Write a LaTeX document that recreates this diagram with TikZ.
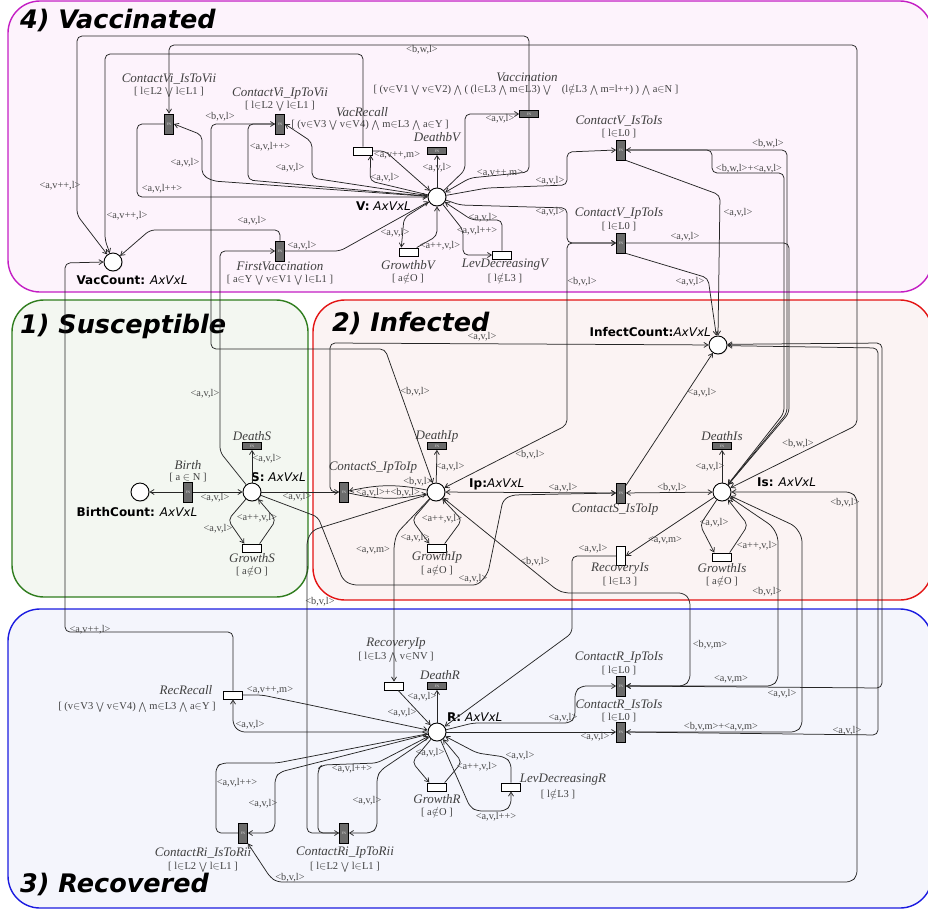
\documentclass[tikz,border=0pt]{standalone}
\usepackage{fontspec}
\setmainfont{Liberation Serif}
\setsansfont{DejaVu Sans}[BoldFont={DejaVu Sans Bold}, ItalicFont={DejaVu Sans Oblique}, BoldItalicFont={DejaVu Sans Bold Oblique}]
\usetikzlibrary{arrows.meta,shadows}

\definecolor{vacfill}{HTML}{FDF3FC}
\definecolor{vacline}{HTML}{C41EC4}
\definecolor{susfill}{HTML}{F3F7F1}
\definecolor{susline}{HTML}{2F7D1E}
\definecolor{inffill}{HTML}{FBF3F3}
\definecolor{infline}{HTML}{E31414}
\definecolor{recfill}{HTML}{F4F5FC}
\definecolor{recline}{HTML}{1B1BE0}
\definecolor{fngray}{HTML}{6B6B6B}

\newcommand{\gin}{\ensuremath{\in}}
\newcommand{\gor}{\ensuremath{\textstyle\bigvee}}
\newcommand{\gand}{\ensuremath{\textstyle\bigwedge}}
\newcommand{\gnin}{\ensuremath{\notin}}

\tikzset{
  zone/.style={line width=1.4pt, rounded corners=32pt},
  zonetitle/.style={anchor=west, inner sep=0pt, font=\sffamily\bfseries\itshape\fontsize{25.5}{25.5}\selectfont},
  place/.style={circle, draw, fill=white, line width=0.9pt, minimum size=18pt, inner sep=0pt,
    drop shadow={opacity=0.25, shadow xshift=0.8pt, shadow yshift=-0.8pt}},
  plab/.style={inner sep=0pt, font=\sffamily\fontsize{12}{12}\selectfont},
  fnh/.style={rectangle, draw, fill=fngray, line width=0.8pt, minimum width=19pt, minimum height=7pt,
    inner sep=0pt, font=\fontsize{3.5}{3.5}\selectfont, text=white!75!gray,
    drop shadow={opacity=0.25, shadow xshift=0.8pt, shadow yshift=-0.8pt}},
  fnv/.style={fnh, minimum width=9pt, minimum height=20pt},
  imh/.style={rectangle, draw, fill=white, line width=0.9pt, minimum width=19pt, minimum height=8pt,
    inner sep=0pt, drop shadow={opacity=0.25, shadow xshift=0.8pt, shadow yshift=-0.8pt}},
  imv/.style={imh, minimum width=9pt, minimum height=19pt},
  tname/.style={inner sep=0pt, text=black!75, font=\itshape\fontsize{13}{13}\selectfont},
  tguard/.style={inner sep=0pt, text=black!75, font=\fontsize{10.5}{10.5}\selectfont},
  lab/.style={inner sep=0pt, text=black!72, font=\fontsize{10.3}{10.3}\selectfont},
  pnarc/.style={draw=black!85, line width=0.75pt, rounded corners=5pt, ->},
  pnboth/.style={pnarc, <->}
}

\begin{document}
\begin{tikzpicture}[x=1pt, y=-1pt, >={Straight Barb[length=4pt,width=5pt]}]

\useasboundingbox (0,0) rectangle (928,913);

% Zones
\draw[zone, draw=vacline, fill=vacfill] (8,1) rectangle (932,292);
\draw[zone, draw=susline, fill=susfill] (12,300) rectangle (308,597);
\draw[zone, draw=infline, fill=inffill] (313,300) rectangle (932,600);
\draw[zone, draw=recline, fill=recfill] (8,609) rectangle (932,908);

\node[zonetitle] (zVac) at (20,20)
{4) Vaccinated};
\node[zonetitle] (zSus) at (20,326)
{1) Susceptible};
\node[zonetitle] (zInf) at (332,323)
{2) Infected};
\node[zonetitle] (zRec) at (20,884)
{3) Recovered};

% Places
\node[place] (V) at (437,197) {};
\node[place] (VacCount) at (113,262) {};
\node[place] (S) at (252,492) {};
\node[place] (BirthCount) at (140,492) {};
\node[place] (Ip) at (436,492) {};
\node[place] (Is) at (722,492) {};
\node[place] (InfectCount) at (718,345) {};
\node[place] (R) at (437,732) {};

\node[plab, anchor=east] (pV) at (411,206)
{\textbf{V:} \textit{AxVxL}};
\node[plab] (pVacCount) at (132,280)
{\textbf{VacCount:} \textit{AxVxL}};
\node[plab, anchor=west] (pS) at (251,477)
{\textbf{S:} \textit{AxVxL}};
\node[plab] (pBirthCount) at (137,512)
{\textbf{BirthCount:} \textit{AxVxL}};
\node[plab, anchor=west] (pIp) at (469,484)
{\textbf{Ip:}\textit{AxVxL}};
\node[plab, anchor=west] (pIs) at (757,482)
{\textbf{Is:} \textit{AxVxL}};
\node[plab, anchor=east] (pInfectCount) at (711,332)
{\textbf{InfectCount:}\textit{AxVxL}};
\node[plab, anchor=west] (pR) at (447,717)
{\textbf{R:} \textit{AxVxL}};

% Transitions
\node[fnv] (tCViIs) at (169,124) {FN};
\node[fnv] (tCViIp) at (280,124) {FN};
\node[fnv] (tFirstVac) at (280,251) {FN};
\node[fnh] (tVacc) at (529,114) {FN};
\node[fnh] (tDeathV) at (437,151) {FN};
\node[imh] (tVacRecall) at (363,151) {};
\node[fnv] (tCVIs) at (621,150) {FN};
\node[fnv] (tCVIp) at (621,243) {FN};
\node[imh] (tGrowthV) at (409,252) {};
\node[imh] (tLevDecV) at (502,255) {};
\node[fnv] (tBirth) at (188,492) {FN};
\node[fnh] (tDeathS) at (252,446) {FN};
\node[imh] (tGrowthS) at (252,548) {};
\node[fnv] (tCSIp) at (344,492) {FN};
\node[fnh] (tDeathIp) at (437,446) {FN};
\node[imh] (tGrowthIp) at (437,548) {};
\node[fnv] (tCSIs) at (621,493) {FN};
\node[fnh] (tDeathIs) at (722,446) {FN};
\node[imh] (tGrowthIs) at (722,557) {};
\node[imv] (tRecIs) at (621,556) {};
\node[imh] (tRecIp) at (394,686) {};
\node[fnh] (tDeathR) at (437,686) {FN};
\node[imh] (tRecRecall) at (233,695) {};
\node[fnv] (tCRIp) at (621,686) {FN};
\node[fnv] (tCRIs) at (621,732) {FN};
\node[imh] (tGrowthR) at (437,787) {};
\node[imh] (tLevDecR) at (511,787) {};
\node[fnv] (tCRiIs) at (243,833) {FN};
\node[fnv] (tCRiIp) at (344,833) {FN};

% Transition names and guards
\node[tname] (nCViIs) at (169,79)
{ContactVi\_IsToVii};
\node[tguard] (gCViIs) at (169,92)
{[ l\gin L2 \gor{} l\gin L1 ]};
\node[tname] (nCViIp) at (280,94)
{ContactVi\_IpToVii};
\node[tguard] (gCViIp) at (280,106)
{[ l\gin L2 \gor{} l\gin L1 ]};
\node[tname] (nFirstVac) at (280,266)
{FirstVaccination};
\node[tguard] (gFirstVac) at (280,280)
{[ a\gin Y \gor{} v\gin V1 \gor{} l\gin L1 ]};
\node[tname] (nVacc) at (527,77)
{Vaccination};
\node[tguard] (gVacc) at (526,90)
{[ (v\gin V1 \gor{} v\gin V2) \gand{} ( (l\gin L3 \gand{} m\gin L3) \gor{}\quad (l\gnin L3 \gand{} m=l++) ) \gand{} a\gin N ]};
\node[tname] (nVacRecall) at (362,112)
{VacRecall};
\node[tguard] (gVacRecall) at (370,125)
{[ (v\gin V3 \gor{} v\gin V4) \gand{} m\gin L3 \gand{} a\gin Y ]};
\node[tname] (nDeathV) at (437,137)
{DeathbV};
\node[tname] (nCVIs) at (619,121)
{ContactV\_IsToIs};
\node[tguard] (gCVIs) at (619,134)
{[ l\gin L0 ]};
\node[tname] (nCVIp) at (619,214)
{ContactV\_IpToIs};
\node[tguard] (gCVIp) at (619,227)
{[ l\gin L0 ]};
\node[tname] (nGrowthV) at (408,265)
{GrowthbV};
\node[tguard] (gGrowthV) at (408,278)
{[ a\gnin O ]};
\node[tname] (nLevDecV) at (505,265)
{LevDecreasingV};
\node[tguard] (gLevDecV) at (505,278)
{[ l\gnin L3 ]};
\node[tname] (nBirth) at (188,465)
{Birth};
\node[tguard] (gBirth) at (188,478)
{[ a \gin{} N ]};
\node[tname] (nDeathS) at (252,436)
{DeathS};
\node[tname] (nGrowthS) at (252,558)
{GrowthS};
\node[tguard] (gGrowthS) at (252,571)
{[ a\gnin O ]};
\node[tname] (nCSIp) at (373,468)
{ContactS\_IpToIp};
\node[tname] (nDeathIp) at (437,436)
{DeathIp};
\node[tname] (nGrowthIp) at (437,557)
{GrowthIp};
\node[tguard] (gGrowthIp) at (437,570)
{[ a\gnin O ]};
\node[tname] (nCSIs) at (615,510)
{ContactS\_IsToIp};
\node[tname] (nDeathIs) at (722,436)
{DeathIs};
\node[tname] (nGrowthIs) at (722,568)
{GrowthIs};
\node[tguard] (gGrowthIs) at (722,581)
{[ a\gnin O ]};
\node[tname] (nRecIs) at (620,569)
{RecoveryIs};
\node[tguard] (gRecIs) at (620,582)
{[ l\gin L3 ]};
\node[tname] (nRecIp) at (396,644)
{RecoveryIp};
\node[tguard] (gRecIp) at (396,657)
{[ l\gin L3 \gand{} v\gin NV ]};
\node[tname] (nDeathR) at (440,675)
{DeathR};
\node[tname] (nRecRecall) at (186,690)
{RecRecall};
\node[tguard] (gRecRecall) at (137,707)
{[ (v\gin V3 \gor{} v\gin V4) \gand{} m\gin L3 \gand{} a\gin Y ]};
\node[tname] (nCRIp) at (619,658)
{ContactR\_IpToIs};
\node[tguard] (gCRIp) at (619,671)
{[ l\gin L0 ]};
\node[tname] (nCRIs) at (619,705)
{ContactR\_IsToIs};
\node[tguard] (gCRIs) at (619,718)
{[ l\gin L0 ]};
\node[tname] (nGrowthR) at (437,799)
{GrowthR};
\node[tguard] (gGrowthR) at (437,812)
{[ a\gnin O ]};
\node[tname] (nLevDecR) at (563,780)
{LevDecreasingR};
\node[tguard] (gLevDecR) at (558,794)
{[ l\gnin L3 ]};
\node[tname] (nCRiIs) at (203,853)
{ContactRi\_IsToRii};
\node[tguard] (gCRiIs) at (203,867)
{[ l\gin L2 \gor{} l\gin L1 ]};
\node[tname] (nCRiIp) at (345,853)
{ContactRi\_IpToRii};
\node[tguard] (gCRiIp) at (345,867)
{[ l\gin L2 \gor{} l\gin L1 ]};

% Arcs, vaccinated
\draw[pnarc] (V) -- (465,170) -- (465,114) -- (tVacc.west);
\draw[pnarc] (tVacc.south) -- (529,172) -- (470,178) -- (V);
\draw[pnarc] (tVacc.north) -- (529,36) -- (77,36) -- (77,215) -- (VacCount);
\draw[pnboth] (Is) -- (857,425) -- (857,45) -- (169,45) -- (tCViIs.north);
\draw[pnarc] (tVacRecall.north) -- (363,54) -- (105,54) -- (105,240) -- (VacCount);
\draw[pnarc] (V) -- (213,181) -- (202,175) -- (202,135) -- (tCViIs.east);
\draw[pnarc] (tCViIs.west) -- (137,124) -- (137,197) -- (V);
\draw[pnarc] (tCViIp.west) -- (248,124) -- (248,180) -- (V);
\draw[pnarc] (V) -- (312,178) -- (312,142) -- (tCViIp.east);
\draw[pnboth] (Ip) -- (385,349) -- (211,349) -- (211,124) -- (tCViIp.west);
\draw[pnarc] (S) -- (220,452) -- (220,251) -- (tFirstVac.west);
\draw[pnarc] (tFirstVac.north) -- (280,230) -- (150,230) -- (VacCount);
\draw[pnarc] (tFirstVac.east) -- (340,251) -- (V);
\draw[pnarc] (V) -- (370,181) -- (tVacRecall.-30);
\draw[pnarc] (tVacRecall.east) -- (385,151) -- (V);
\draw[pnarc] (V) -- (tDeathV);
\draw[pnarc] (V) -- (404,218) -- (tGrowthV.150);
\draw[pnarc] (tGrowthV.30) -- (437,236) -- (V);
\draw[pnarc] (tLevDecV.north) -- (502,220) -- (472,220) -- (V);
\draw[pnarc] (V) -- (463,230) -- (463,255) -- (tLevDecV.west);
\draw[pnarc] (V) -- (487,188) -- (567,185) -- (567,152) -- (tCVIs.west);
\draw[pnarc] (V) -- (460,205) -- (567,208) -- (567,243) -- (tCVIp.west);
\draw[pnboth] (Ip) -- (567,425) -- (567,243) -- (tCVIp.west);
\draw[pnboth] (Is) -- (787,413) -- (787,150) -- (tCVIs.east);
\draw[pnarc] (tCVIs.east) -- (712,150) -- (712,173) -- (784,173) -- (784,413) -- (Is);
\draw[pnarc] (tCVIs.south east) -- (720,195) -- (InfectCount.north);
\draw[pnarc] (tCVIp.east) -- (789,243) -- (789,413) -- (Is);
\draw[pnarc] (tCVIp.south east) -- (708,278) -- (InfectCount.100);

% Arcs, susceptible and infected
\draw[pnarc] (tCSIp.west) -- (330,492) -- (330,343) -- (InfectCount);
\draw[pnarc] (S) -- (tCSIp);
\draw[pnarc] (Ip) to[bend right=12] (tCSIp);
\draw[pnarc] (tCSIp) to[bend right=12] (Ip);
\draw[pnboth] (Ip) -- (tCSIs);
\draw[pnboth] (Is) -- (tCSIs);
\draw[pnarc] (S) -- (318,517) -- (343,580) -- (352,585) -- (478,585) -- (488,573) -- (503,500) -- (512,495) -- (tCSIs.west);
\draw[pnarc] (tCSIs) -- (InfectCount);
\draw[pnarc] (Ip) -- (tDeathIp);
\draw[pnarc] (Ip) -- (412,520) -- (tGrowthIp.150);
\draw[pnarc] (tGrowthIp.30) -- (462,520) -- (Ip);
\draw[pnarc] (Ip) -- (397,533) -- (394,545) -- (tRecIp.north);
\draw[pnarc] (Ip) -- (313,530) -- (307,540) -- (307,833) -- (tCRiIp.west);
\draw[pnarc] (Is) -- (tRecIs.east);
\draw[pnarc] (tRecIs.west) -- (572,556) -- (572,633) -- (R);
\draw[pnarc] (Is) -- (tDeathIs);
\draw[pnarc] (Is) -- (700,525) -- (tGrowthIs.150);
\draw[pnarc] (tGrowthIs.30) -- (748,525) -- (Is);
\draw[pnarc] (S) -- (tDeathS);
\draw[pnarc] (S) -- (228,520) -- (tGrowthS.150);
\draw[pnarc] (tGrowthS.30) -- (276,520) -- (S);
\draw[pnarc] (tBirth) -- (S);
\draw[pnarc] (tBirth) -- (BirthCount);
\draw[pnboth] (Is) -- (772,526) -- (778,537) -- (778,680) -- (772,686) -- (tCRIp.east);
\draw[pnboth] (Ip) -- (557,590) -- (565,593) -- (684,593) -- (690,600) -- (690,680) -- (684,686) -- (tCRIp.east);
\draw[pnboth] (Is) -- (795,526) -- (802,537) -- (802,726) -- (796,732) -- (tCRIs.east);
\draw[pnarc] (tCRIp.east) -- (882,688) -- (882,343) -- (InfectCount.4);
\draw[pnarc] (tCRIs.east) -- (878,735) -- (878,348) -- (InfectCount.-4);
\draw[pnboth] (Is) -- (851,492) -- (857,498) -- (857,876) -- (851,882) -- (277,882) -- (270,877) -- (tCRiIs.south east);

% Arcs, recovered
\draw[pnarc] (tRecRecall.north) -- (233,632) -- (65,632) -- (65,263) -- (VacCount.west);
\draw[pnarc] (tRecRecall.east) -- (262,695) -- (310,705) -- (R);
\draw[pnarc] (R) -- (240,732) -- (233,725) -- (tRecRecall.south);
\draw[pnarc] (tRecIp) -- (R);
\draw[pnarc] (R) -- (tDeathR);
\draw[pnarc] (R) -- (473,723) -- (570,723) -- (575,717) -- (575,692) -- (581,686) -- (tCRIp.west);
\draw[pnarc] (R) -- (tCRIs);
\draw[pnarc] (R) -- (412,762) -- (tGrowthR.150);
\draw[pnarc] (tGrowthR.30) -- (462,762) -- (R);
\draw[pnarc] (tLevDecR.north) -- (511,763) -- (505,757) -- (477,753) -- (R);
\draw[pnarc] (R) -- (470,807) -- (477,811) -- (505,811) -- (511,805) -- (tLevDecR.south);
\draw[pnarc] (tCRiIs.west) -- (216,833) -- (216,767) -- (222,763) -- (277,763) -- (R);
\draw[pnarc] (R) -- (280,772) -- (275,778) -- (275,828) -- (269,833) -- (tCRiIs.east);
\draw[pnarc] (tCRiIp.west) -- (318,833) -- (318,769) -- (322,765) -- (377,763) -- (R);
\draw[pnarc] (R) -- (381,770) -- (377,777) -- (377,828) -- (371,833) -- (tCRiIp.east);

% Arc labels
\node[lab] (la01) at (500,119) {<a,v,l>};
\node[lab] (la02) at (500,173) {<a,v++,m>};
\node[lab] (la03) at (60,186) {<a,v++,l>};
\node[lab] (la04) at (422,50) {<b,w,l>};
\node[lab] (la05) at (798,444) {<b,w,l>};
\node[lab] (la06) at (127,216) {<a,v++,l>};
\node[lab] (la07) at (185,163) {<a,v,l>};
\node[lab] (la08) at (162,189) {<a,v,l++>};
\node[lab] (la09) at (270,147) {<a,v,l++>};
\node[lab] (la10) at (290,168) {<a,v,l>};
\node[lab] (la11) at (220,117) {<b,v,l>};
\node[lab] (la12) at (415,392) {<b,v,l>};
\node[lab] (la13) at (205,394) {<a,v,l>};
\node[lab] (la14) at (252,221) {<a,v,l>};
\node[lab] (la15) at (302,246) {<a,v,l>};
\node[lab] (la16) at (385,178) {<a,v,l>};
\node[lab] (la17) at (397,155) {<a,v++,m>};
\node[lab] (la18) at (437,168) {<a,v,l>};
\node[lab] (la19) at (395,233) {<a,v,l>};
\node[lab] (la20) at (440,246) {<a++,v,l>};
\node[lab] (la21) at (483,218) {<a,v,l>};
\node[lab] (la22) at (477,231) {<a,v,l++>};
\node[lab] (la23) at (550,181) {<a,v,l>};
\node[lab] (la24) at (550,212) {<a,v,l>};
\node[lab] (la25) at (582,282) {<b,v,l>};
\node[lab] (la26) at (530,455) {<b,v,l>};
\node[lab] (la27) at (768,144) {<b,w,l>};
\node[lab] (la28) at (749,169) {<b,w,l>+<a,v,l>};
\node[lab] (la29) at (738,213) {<a,v,l>};
\node[lab] (la30) at (685,237) {<a,v,l>};
\node[lab] (la31) at (690,282) {<a,v,l>};
\node[lab] (lb01) at (482,337) {<a,v,l>};
\node[lab] (lb02) at (297,497) {<a,v,l>};
\node[lab] (lb03) at (418,482) {<b,v,l>};
\node[lab] (lb04) at (388,493) {<a,v,l>+<b,v,l>};
\node[lab] (lb05) at (563,488) {<a,v,l>};
\node[lab] (lb06) at (672,488) {<b,v,l>};
\node[lab] (lb07) at (473,579) {<a,v,l>};
\node[lab] (lb08) at (702,393) {<a,v,l>};
\node[lab] (lb09) at (450,467) {<a,v,l>};
\node[lab] (lb10) at (415,538) {<a,v,l>};
\node[lab] (lb11) at (442,519) {<a++,v,l>};
\node[lab] (lb12) at (373,550) {<a,v,m>};
\node[lab] (lb13) at (320,602) {<b,v,l>};
\node[lab] (lb14) at (665,540) {<a,v,m>};
\node[lab] (lb15) at (593,549) {<a,v,l>};
\node[lab] (lb16) at (710,467) {<a,v,l>};
\node[lab] (lb17) at (714,523) {<a,v,l>};
\node[lab] (lb18) at (757,546) {<a++,v,l>};
\node[lab] (lb19) at (267,459) {<a,v,l>};
\node[lab] (lb20) at (218,529) {<a,v,l>};
\node[lab] (lb21) at (257,518) {<a++,v,l>};
\node[lab] (lb22) at (215,498) {<a,v,l>};
\node[lab] (lb23) at (767,592) {<b,v,l>};
\node[lab] (lb24) at (731,679) {<a,v,m>};
\node[lab] (lb25) at (535,562) {<b,v,l>};
\node[lab] (lb26) at (710,645) {<b,v,m>};
\node[lab] (lb27) at (721,727) {<b,v,m>+<a,v,m>};
\node[lab] (lb28) at (782,694) {<a,v,l>};
\node[lab] (lb29) at (847,731) {<a,v,l>};
\node[lab] (lb30) at (845,503) {<b,v,l>};
\node[lab] (lb31) at (290,878) {<b,v,l>};
\node[lab] (lc01) at (90,630) {<a,v++,l>};
\node[lab] (lc02) at (270,690) {<a,v++,m>};
\node[lab] (lc03) at (250,725) {<a,v,l>};
\node[lab] (lc04) at (402,713) {<a,v,l>};
\node[lab] (lc05) at (422,697) {<a,v,l>};
\node[lab] (lc06) at (563,718) {<a,v,l>};
\node[lab] (lc07) at (595,737) {<a,v,l>};
\node[lab] (lc08) at (430,753) {<a,v,l>};
\node[lab] (lc09) at (477,767) {<a++,v,l>};
\node[lab] (lc10) at (520,756) {<a,v,l>};
\node[lab] (lc11) at (496,817) {<a,v,l++>};
\node[lab] (lc12) at (237,783) {<a,v,l++>};
\node[lab] (lc13) at (263,804) {<a,v,l>};
\node[lab] (lc14) at (352,769) {<a,v,l++>};
\node[lab] (lc15) at (367,801) {<a,v,l>};

\end{tikzpicture}
\end{document}
